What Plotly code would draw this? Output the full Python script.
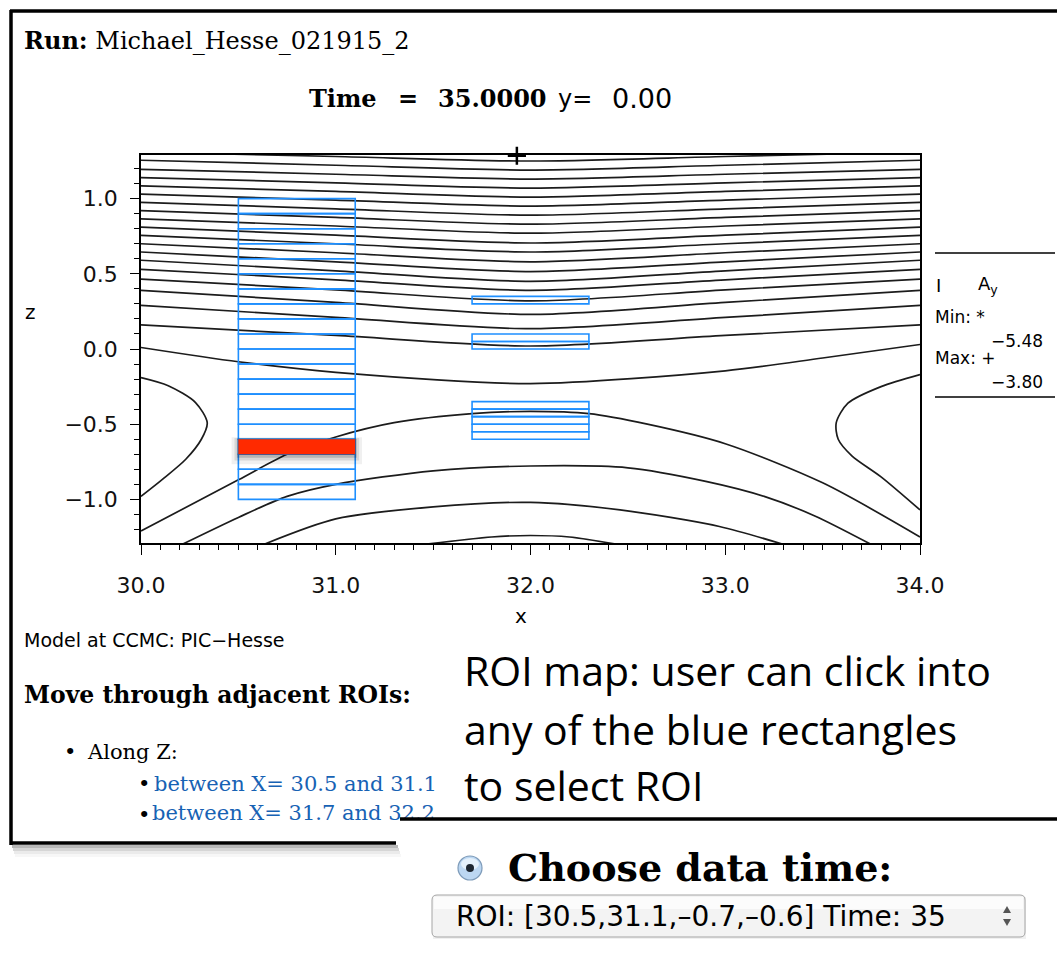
import plotly.graph_objects as go

W, H = 1057, 961

# ---------------------------------------------------------------------------
# A_y field lines in the x-z plane
# ---------------------------------------------------------------------------
# Upper (bowl shaped) lines sampled at these x positions
UPPER_X = [30.0, 31.0, 32.0, 33.0, 34.0]
UPPER_Z = [
    [1.31, 1.28, 1.25, 1.28, 1.31],
    [1.255, 1.222, 1.19, 1.222, 1.255],
    [1.195, 1.162, 1.13, 1.162, 1.195],
    [1.14, 1.105, 1.07, 1.105, 1.14],
    [1.085, 1.048, 1.01, 1.048, 1.085],
    [1.03, 0.99, 0.95, 0.99, 1.03],
    [0.975, 0.932, 0.89, 0.932, 0.975],
    [0.92, 0.875, 0.83, 0.875, 0.92],
    [0.865, 0.818, 0.77, 0.818, 0.865],
    [0.81, 0.757, 0.705, 0.757, 0.81],
    [0.755, 0.70, 0.645, 0.70, 0.755],
    [0.70, 0.64, 0.58, 0.64, 0.70],
    [0.645, 0.58, 0.515, 0.58, 0.645],
    [0.59, 0.52, 0.45, 0.52, 0.59],
    [0.53, 0.46, 0.39, 0.46, 0.53],
    [0.465, 0.393, 0.32, 0.393, 0.465],
    [0.39, 0.31, 0.23, 0.31, 0.39],
    [0.29, 0.21, 0.135, 0.21, 0.29],
    [0.16, 0.09, 0.02, 0.09, 0.16],
]
# Lowest bowl line above the X-line
SEP_UPPER_X = [30.0, 30.5, 31.0, 32.0, 33.0, 33.5, 34.0]
SEP_UPPER_Z = [0.01, -0.085, -0.155, -0.23, -0.145, -0.06, 0.03]

# Magnetic islands cut by the left / right boundaries
LEFT_ISLAND_X = [30.0, 30.14, 30.28, 30.34, 30.31, 30.23, 30.11, 30.0]
LEFT_ISLAND_Z = [-0.19, -0.244, -0.356, -0.49, -0.60, -0.733, -0.867, -0.98]
RIGHT_ISLAND_X = [34.0, 33.8, 33.63, 33.57, 33.58, 33.65, 33.8, 34.0]
RIGHT_ISLAND_Z = [-0.17, -0.25, -0.36, -0.49, -0.60, -0.71, -0.85, -1.07]

# Lower (arch shaped) lines
ARCH1_X = [30.0, 30.5, 30.75, 31.0, 31.3, 31.7, 32.0, 32.3, 32.6, 33.0, 33.5, 34.0]
ARCH1_Z = [-1.21, -0.87, -0.70, -0.585, -0.49, -0.43, -0.415, -0.43, -0.50, -0.63, -0.89, -1.25]
ARCH2_X = [30.21, 30.5, 30.75, 31.0, 31.5, 32.0, 32.5, 32.9, 33.2, 33.46, 33.75]
ARCH2_Z = [-1.30, -1.12, -0.98, -0.90, -0.81, -0.778, -0.79, -0.88, -0.98, -1.11, -1.30]
ARCH3_X = [30.63, 31.0, 31.5, 32.0, 32.46, 32.97, 33.3]
ARCH3_Z = [-1.30, -1.13, -1.05, -1.02, -1.07, -1.18, -1.30]
ARCH4_X = [31.45, 31.8, 32.0, 32.2, 32.45]
ARCH4_Z = [-1.30, -1.25, -1.24, -1.25, -1.30]

A_MIN = -5.48
A_MAX = -3.80
MAX_POS = (31.93, 1.285)

# ---------------------------------------------------------------------------
# Regions of interest
# ---------------------------------------------------------------------------
ROI_LEFT_X = (30.5, 31.1)
ROI_LEFT_Z_EDGES = [-1.0, -0.9, -0.8, -0.7, -0.6, -0.5, -0.4, -0.3, -0.2, -0.1, 0.0,
                    0.1, 0.2, 0.3, 0.4, 0.5, 0.6, 0.7, 0.8, 0.9, 1.0]
ROI_RIGHT_X = (31.7, 32.3)
ROI_RIGHT_Z_GROUPS = [
    [0.30, 0.35],
    [0.0, 0.05, 0.10],
    [-0.60, -0.55, -0.50, -0.45, -0.40, -0.35],
]
SELECTED_ROI = [30.5, 31.1, -0.7, -0.6]
DATA_TIME = 35
SLICE_Y = 0.0

# Axis ticks
X_TICKS = [30, 31, 32, 33, 34]
X_TICK_TEXT = ["30.0", "31.0", "32.0", "33.0", "34.0"]
Z_TICKS = [-1.0, -0.5, 0.0, 0.5, 1.0]
Z_TICK_TEXT = ["\u22121.0", "\u22120.5", "0.0", "0.5", "1.0"]

RUN_NAME = "Michael_Hesse_021915_2"
MODEL = "PIC\u2212Hesse"

SERIF = "DejaVu Serif"
SANS = "DejaVu Sans"
UI = "Open Sans"
BLUE = "#1E8FFF"
LINK = "#1762B4"


def px(x):
    return x / W


def py(y):
    return 1 - y / H


fig = go.Figure()

line_style = dict(color="#1c1c1c", width=1.7, shape="spline", smoothing=0.8)


def field_line(xs, zs):
    fig.add_trace(go.Scatter(x=xs, y=zs, mode="lines", line=line_style,
                             hoverinfo="skip", showlegend=False))


for zs in UPPER_Z:
    field_line(UPPER_X, zs)
field_line(SEP_UPPER_X, SEP_UPPER_Z)
field_line(LEFT_ISLAND_X, LEFT_ISLAND_Z)
field_line(RIGHT_ISLAND_X, RIGHT_ISLAND_Z)
for xs, zs in [(ARCH1_X, ARCH1_Z), (ARCH2_X, ARCH2_Z), (ARCH3_X, ARCH3_Z), (ARCH4_X, ARCH4_Z)]:
    field_line(xs, zs)

# Location of the maximum
fig.add_trace(go.Scatter(x=[MAX_POS[0]], y=[MAX_POS[1]], mode="markers",
                         marker=dict(symbol="cross-thin", size=13,
                                     line=dict(color="black", width=2.5)),
                         cliponaxis=False, hoverinfo="skip", showlegend=False))

# Second link of the list lives on a page-sized axis so the inset can overlap it
fig.add_trace(go.Scatter(x=[152], y=[815], mode="text",
                         text=[f"between X= {ROI_RIGHT_X[0]} and 32.2"],
                         textposition="middle right",
                         textfont=dict(family=SERIF, size=21, color=LINK),
                         xaxis="x2", yaxis="y2", hoverinfo="skip", showlegend=False))

shapes = []


def roi_boxes(xr, edges):
    for z0, z1 in zip(edges[:-1], edges[1:]):
        shapes.append(dict(type="rect", xref="x", yref="y", x0=xr[0], x1=xr[1],
                           y0=z0, y1=z1, line=dict(color=BLUE, width=1.6),
                           fillcolor="rgba(0,0,0,0)", layer="above"))


roi_boxes(ROI_LEFT_X, ROI_LEFT_Z_EDGES)
for grp in ROI_RIGHT_Z_GROUPS:
    roi_boxes(ROI_RIGHT_X, grp)

# Selected ROI with a soft shadow
x0, x1, z0, z1 = SELECTED_ROI
for k, a in [(0.035, 0.06), (0.02, 0.10), (0.008, 0.16)]:
    shapes.append(dict(type="rect", xref="x", yref="y", x0=x0 - k, x1=x1 + k,
                       y0=z0 - 1.6 * k - 0.01, y1=z1 + 0.4 * k, line=dict(width=0),
                       fillcolor=f"rgba(0,0,0,{a})", layer="above"))
shapes.append(dict(type="rect", xref="x", yref="y", x0=x0, x1=x1, y0=z0, y1=z1,
                   line=dict(width=0), fillcolor="#FF2A00", layer="above"))


def pline(xa, ya, xb, yb, color="black", width=3.5, layer="below"):
    shapes.append(dict(type="line", xref="paper", yref="paper", x0=px(xa), y0=py(ya),
                       x1=px(xb), y1=py(yb), line=dict(color=color, width=width),
                       layer=layer))


# Page panel border and its shadow
for i, a in enumerate([0.28, 0.16, 0.08, 0.03]):
    shapes.append(dict(type="rect", xref="paper", yref="paper",
                       x0=px(12 + i), x1=px(398 + i), y0=py(845 + 3 * i), y1=py(848 + 3 * i),
                       line=dict(width=0), fillcolor=f"rgba(0,0,0,{a})", layer="below"))
pline(10, 11, W, 11)
pline(11, 10, 11, 845)
pline(10, 843, 396, 843)

# Inset in the lower right: white cover and top rule
shapes.append(dict(type="rect", xref="paper", yref="paper", x0=px(400), x1=1,
                   y0=py(840), y1=py(820), line=dict(width=0), fillcolor="white",
                   layer="above"))
pline(400, 819, W, 819, width=3.5, layer="above")

# Legend rules
pline(935, 253, 1055, 253, width=1.3)
pline(935, 397, 1055, 397, width=1.3)

# Select box
bx0, bx1, by0, by1, r = 432, 1025, 895, 937, 5
path = (f"M {px(bx0 + r)},{py(by0)} L {px(bx1 - r)},{py(by0)} "
        f"Q {px(bx1)},{py(by0)} {px(bx1)},{py(by0 + r)} L {px(bx1)},{py(by1 - r)} "
        f"Q {px(bx1)},{py(by1)} {px(bx1 - r)},{py(by1)} L {px(bx0 + r)},{py(by1)} "
        f"Q {px(bx0)},{py(by1)} {px(bx0)},{py(by1 - r)} L {px(bx0)},{py(by0 + r)} "
        f"Q {px(bx0)},{py(by0)} {px(bx0 + r)},{py(by0)} Z")
shapes.append(dict(type="rect", xref="paper", yref="paper", x0=px(bx0 + 1), x1=px(bx1 + 1),
                   y0=py(by1 + 2), y1=py(by0 + 2), line=dict(width=0),
                   fillcolor="rgba(0,0,0,0.06)", layer="below"))
shapes.append(dict(type="path", xref="paper", yref="paper", path=path,
                   fillcolor="#F3F3F3", line=dict(color="#A5A5A5", width=1), layer="above"))
shapes.append(dict(type="rect", xref="paper", yref="paper", x0=px(bx0 + 2), x1=px(bx1 - 2),
                   y0=py(by0 + 14), y1=py(by0 + 2), line=dict(width=0),
                   fillcolor="#FCFCFC", layer="above"))
# Up / down arrows of the select box
shapes.append(dict(type="path", xref="paper", yref="paper",
                   path=f"M {px(1003)},{py(913)} L {px(1011)},{py(913)} L {px(1007)},{py(906)} Z",
                   fillcolor="#555555", line=dict(width=0), layer="above"))
shapes.append(dict(type="path", xref="paper", yref="paper",
                   path=f"M {px(1003)},{py(919)} L {px(1011)},{py(919)} L {px(1007)},{py(926)} Z",
                   fillcolor="#555555", line=dict(width=0), layer="above"))

# Radio button
cx, cy = 470, 868
shapes.append(dict(type="circle", xref="paper", yref="paper", x0=px(cx - 12), x1=px(cx + 12),
                   y0=py(cy + 12), y1=py(cy - 12), fillcolor="#BCD7F2",
                   line=dict(color="#7E9BB9", width=1.2), layer="above"))
shapes.append(dict(type="circle", xref="paper", yref="paper", x0=px(cx - 9), x1=px(cx + 9),
                   y0=py(cy + 2), y1=py(cy - 10), fillcolor="#E4F0FB",
                   line=dict(width=0), layer="above"))
shapes.append(dict(type="circle", xref="paper", yref="paper", x0=px(cx - 4), x1=px(cx + 4),
                   y0=py(cy + 4), y1=py(cy - 4), fillcolor="#1D2631",
                   line=dict(width=0), layer="above"))

annotations = []


def note(text, x, y, size, family=SANS, color="black", xanchor="left", **kw):
    annotations.append(dict(text=text, x=px(x), y=py(y), xref="paper", yref="paper",
                            xanchor=xanchor, yanchor="middle", showarrow=False,
                            font=dict(family=family, size=size, color=color), **kw))


def neg(v):
    return f"\u2212{abs(v):.2f}" if v < 0 else f"{v:.2f}"


note(f"<b>Run:</b> {RUN_NAME}", 22, 40, 24, SERIF)
note("<b>Time</b>", 307, 99, 24, SERIF)
note("<b>=</b>", 396, 99, 24, SERIF)
note(f"<b>{DATA_TIME:.4f}</b>", 436, 99, 24, SERIF)
note("y=", 556, 99, 24, SANS)
note(f"{SLICE_Y:.2f}", 610, 99, 27, SANS)
note("z", 30, 312, 20, SANS, xanchor="center")
note("x", 521, 616, 20, SANS, xanchor="center")

note("I", 934, 285, 18, SANS)
note("A<sub>y</sub>", 976, 285, 18, SANS)
note("Min: *", 933, 317, 17, SANS)
note(neg(A_MIN), 1045, 341, 17, SANS, xanchor="right")
note("Max: +", 933, 358, 17, SANS)
note(neg(A_MAX), 1045, 382, 17, SANS, xanchor="right")

note(f"Model at CCMC: {MODEL}", 22, 640, 19, SANS)
note("<b>Move through adjacent ROIs:</b>", 22, 695, 23.5, SERIF)
note("\u2022", 62, 752, 21, SERIF)
note("Along Z:", 85, 752, 21, SERIF)
note("\u2022", 136, 784, 21, SERIF)
note(f"between X= {ROI_LEFT_X[0]} and {ROI_LEFT_X[1]}", 152, 784, 21, SERIF, color=LINK)
note("\u2022", 136, 815, 21, SERIF)

note("ROI map: user can click into", 462, 670, 41, UI)
note("any of the blue rectangles", 462, 729, 41, UI)
note("to select ROI", 462, 785, 41, UI)

note("<b>Choose data time:</b>", 506, 867, 38, SERIF)
roi_txt = ",".join(f"{v:g}".replace("-", "\u2013") for v in SELECTED_ROI)
note(f"ROI: [{roi_txt}] Time: {DATA_TIME}", 454, 916, 28, SANS)

axis_font = dict(family=SANS, size=22, color="#111111")
fig.update_layout(
    width=W, height=H, margin=dict(l=0, r=0, t=0, b=0, autoexpand=False),
    autosize=False,
    paper_bgcolor="white", plot_bgcolor="rgba(0,0,0,0)",
    shapes=shapes, annotations=annotations, showlegend=False,
    xaxis=dict(domain=[px(141), px(920)], range=[30, 34], showgrid=False, zeroline=False,
               automargin=False,
               showline=True, linecolor="black", linewidth=1.6, mirror=True,
               ticks="outside", ticklen=10, tickwidth=1.3, tickcolor="black",
               tickmode="array", tickvals=X_TICKS, ticktext=X_TICK_TEXT,
               tickfont=axis_font, ticklabelstandoff=12,
               minor=dict(dtick=0.1, tick0=30, ticks="outside", ticklen=5,
                          tickwidth=1, tickcolor="black", showgrid=False)),
    yaxis=dict(domain=[py(543), py(155)], range=[-1.29, 1.29], showgrid=False, zeroline=False,
               automargin=False,
               showline=True, linecolor="black", linewidth=1.6, mirror=True,
               ticks="outside", ticklen=9, tickwidth=1.3, tickcolor="black",
               tickmode="array", tickvals=Z_TICKS, ticktext=Z_TICK_TEXT,
               tickfont=axis_font, ticklabelstandoff=8,
               minor=dict(dtick=0.1, tick0=0, ticks="outside", ticklen=5,
                          tickwidth=1, tickcolor="black", showgrid=False)),
    xaxis2=dict(domain=[0, 1], range=[0, W], visible=False, anchor="y2",
                automargin=False, fixedrange=True),
    yaxis2=dict(domain=[0, 1], range=[H, 0], visible=False, anchor="x2",
                automargin=False, fixedrange=True),
)

fig.write_html("out.html")
